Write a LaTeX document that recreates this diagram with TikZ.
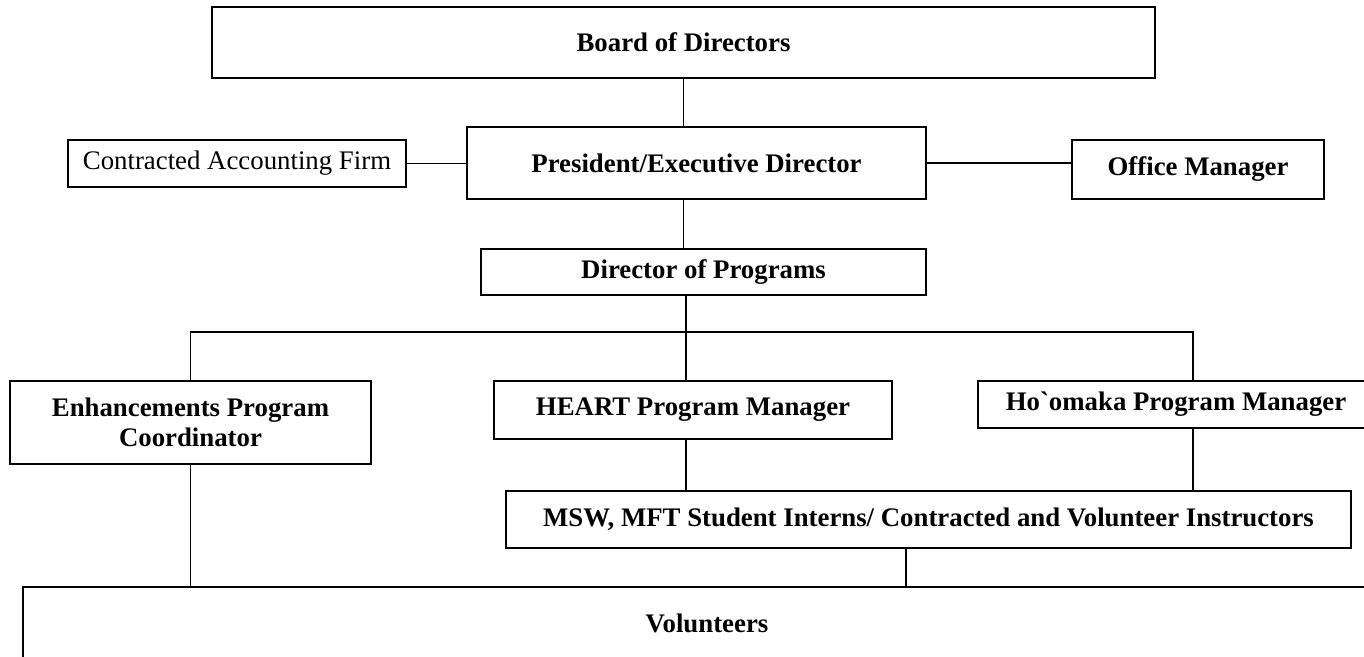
\documentclass[tikz,border=0pt]{standalone}
\usepackage{fontspec}
\setmainfont{Liberation Serif}
\usepackage{tikz}
\usetikzlibrary{positioning}

\begin{document}
\begin{tikzpicture}[x=0.5pt, y=-0.5pt,
    unit/.style={draw, thick, rectangle, inner sep=0pt, align=center,
      font=\fontsize{13.4}{15}\selectfont\bfseries},
    plainunit/.style={unit, font=\fontsize{13.4}{15}\selectfont},
    link/.style={semithick}]
  \useasboundingbox (0,0) rectangle (1364,657);
  \clip (0,0) rectangle (1364,657);

  \node[unit, minimum width=471.5pt, minimum height=35.5pt] (board) at (683.5,42.5) {Board of Directors};
  \node[unit, minimum width=229.5pt, minimum height=36pt] (pres) at (696.5,163) {President/Executive Director};
  \node[plainunit, minimum width=169pt, minimum height=23.5pt] (firm) at (237,163.5) {Contracted Accounting Firm};
  \node[unit, minimum width=126pt, minimum height=29.5pt] (office) at (1198,169.5) {Office Manager};
  \node[unit, minimum width=222.5pt, minimum height=23pt] (progdir) at (703.5,272) {Director of Programs};
  \node[unit, minimum width=180.5pt, minimum height=41.5pt] (enhance) at (190.5,422.5) {Enhancements Program\\Coordinator};
  \node[unit, minimum width=199pt, minimum height=29pt] (heart) at (693,410) {HEART Program Manager};
  \node[unit, minimum width=198pt, minimum height=23.5pt] (homaka) at (1176,404.5) {Ho\textasciigrave omaka Program Manager};
  \node[unit, minimum width=422.5pt, minimum height=28.5pt] (interns) at (928.5,519.5) {MSW, MFT Student Interns/ Contracted and Volunteer Instructors};
  \node[unit, minimum width=684pt, minimum height=36pt] (volunteers) at (707,623) {Volunteers};

  \coordinate (busmid) at (686,332);
  \coordinate (busright) at (1193,332);
  \coordinate (voldrop) at (906,587);

  \draw[link] (board.south) -- (board.south |- pres.north);
  \draw[link] (firm.east) -- (firm.east -| pres.west);
  \draw[link] (pres.east) -- (pres.east -| office.west);
  \draw[link] (pres.south -| board.south) -- (progdir.north -| board.south);
  \draw[link] (progdir.south -| busmid) -- (busmid) -- (heart.north -| busmid);
  \draw[link] (enhance.north) |- (busright) -- (busright |- homaka.north);
  \draw[link] (heart.south -| busmid) -- (interns.north -| busmid);
  \draw[link] (homaka.south -| busright) -- (interns.north -| busright);
  \draw[link] (enhance.south) -- (enhance.south |- volunteers.north);
  \draw[link] (interns.south -| voldrop) -- (voldrop);
\end{tikzpicture}
\end{document}
